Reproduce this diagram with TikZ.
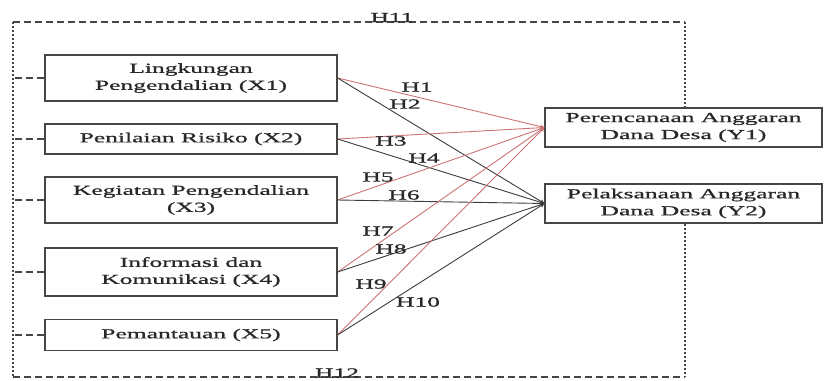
\documentclass[tikz,border=0pt]{standalone}
\usepackage{fontspec}
\setmainfont{Liberation Serif}[FakeStretch=1.85,FakeBold=1]
\usetikzlibrary{arrows}
\definecolor{boxgray}{RGB}{70,70,70}
\definecolor{textgray}{RGB}{40,40,40}
\definecolor{hypred}{RGB}{205,115,115}
\definecolor{hypdark}{RGB}{60,60,60}
\tikzstyle{varbox} = [draw=boxgray,line width=1.2pt,align=center,inner sep=0pt,text=textgray,font=\fontsize{13.8}{17}\selectfont]
\tikzstyle{redarrow} = [hypred,line width=0.9pt,->,>=stealth]
\tikzstyle{darkarrow} = [hypdark,line width=0.9pt,->,>=stealth]
\tikzstyle{hlabel} = [text=textgray,inner sep=0pt,font=\fontsize{13.8}{17}\selectfont]
\tikzstyle{framedash} = [boxgray,line width=1.8pt,dash pattern=on 7pt off 4pt]
\tikzstyle{framedot} = [boxgray,line width=2.2pt,dash pattern=on 2pt off 2pt]

\begin{document}
\begin{tikzpicture}[x=1pt,y=-1pt]
		\useasboundingbox (0,0) rectangle (824,380);
		
		% frame corners
		\coordinate (tl) at (13,22);
		\coordinate (tr) at (685,22);
		\coordinate (bl) at (13,377);
		\coordinate (br) at (685,377);
		
		% independent variables
		\node[varbox,minimum width=292pt,minimum height=46pt] (x1) at (191,78) {Lingkungan\\Pengendalian (X1)};
		\node[varbox,minimum width=292pt,minimum height=30pt] (x2) at (191,139) {Penilaian Risiko (X2)};
		\node[varbox,minimum width=292pt,minimum height=46pt] (x3) at (191,200) {Kegiatan Pengendalian\\(X3)};
		\node[varbox,minimum width=292pt,minimum height=48pt] (x4) at (191,272) {Informasi dan\\Komunikasi (X4)};
		\node[varbox,minimum width=292pt,minimum height=31pt] (x5) at (191,335) {Pemantauan (X5)};
		
		% dependent variables
		\node[varbox,minimum width=277pt,minimum height=39pt] (y1) at (683.5,127.5) {Perencanaan Anggaran\\Dana Desa (Y1)};
		\node[varbox,minimum width=277pt,minimum height=39pt] (y2) at (683.5,203.5) {Pelaksanaan Anggaran\\Dana Desa (Y2)};
		
		% hypotheses
		\foreach \i in {1,...,5} {
			\draw[redarrow] (x\i.east) -- (y1.west);
			\draw[darkarrow] (x\i.east) -- (y2.west);
			\draw[framedash] (x\i.west) -- (x\i.west -| tl);
		}
		
		% frame
		\draw[framedash] (tl) -- (tr);
		\draw[framedash] (bl) -- (br);
		\draw[framedot] (tl) -- (bl);
		\draw[framedot] (tr) -- (y1.north -| tr);
		\draw[framedot] (y2.south -| br) -- (br);
		
		% labels
		\node[hlabel] (h1) at (417,87) {H1};
		\node[hlabel] (h2) at (405,104) {H2};
		\node[hlabel] (h3) at (391,141) {H3};
		\node[hlabel] (h4) at (424,158) {H4};
		\node[hlabel] (h5) at (378,177) {H5};
		\node[hlabel] (h6) at (404,195) {H6};
		\node[hlabel] (h7) at (378,231) {H7};
		\node[hlabel] (h8) at (391,249) {H8};
		\node[hlabel] (h9) at (371,284) {H9};
		\node[hlabel] (h10) at (418,302) {H10};
		\node[hlabel,anchor=base] (h11) at (392,22) {H11};
		\node[hlabel,anchor=base] (h12) at (337,377.5) {H12};
		
		\end{tikzpicture}
\end{document}
